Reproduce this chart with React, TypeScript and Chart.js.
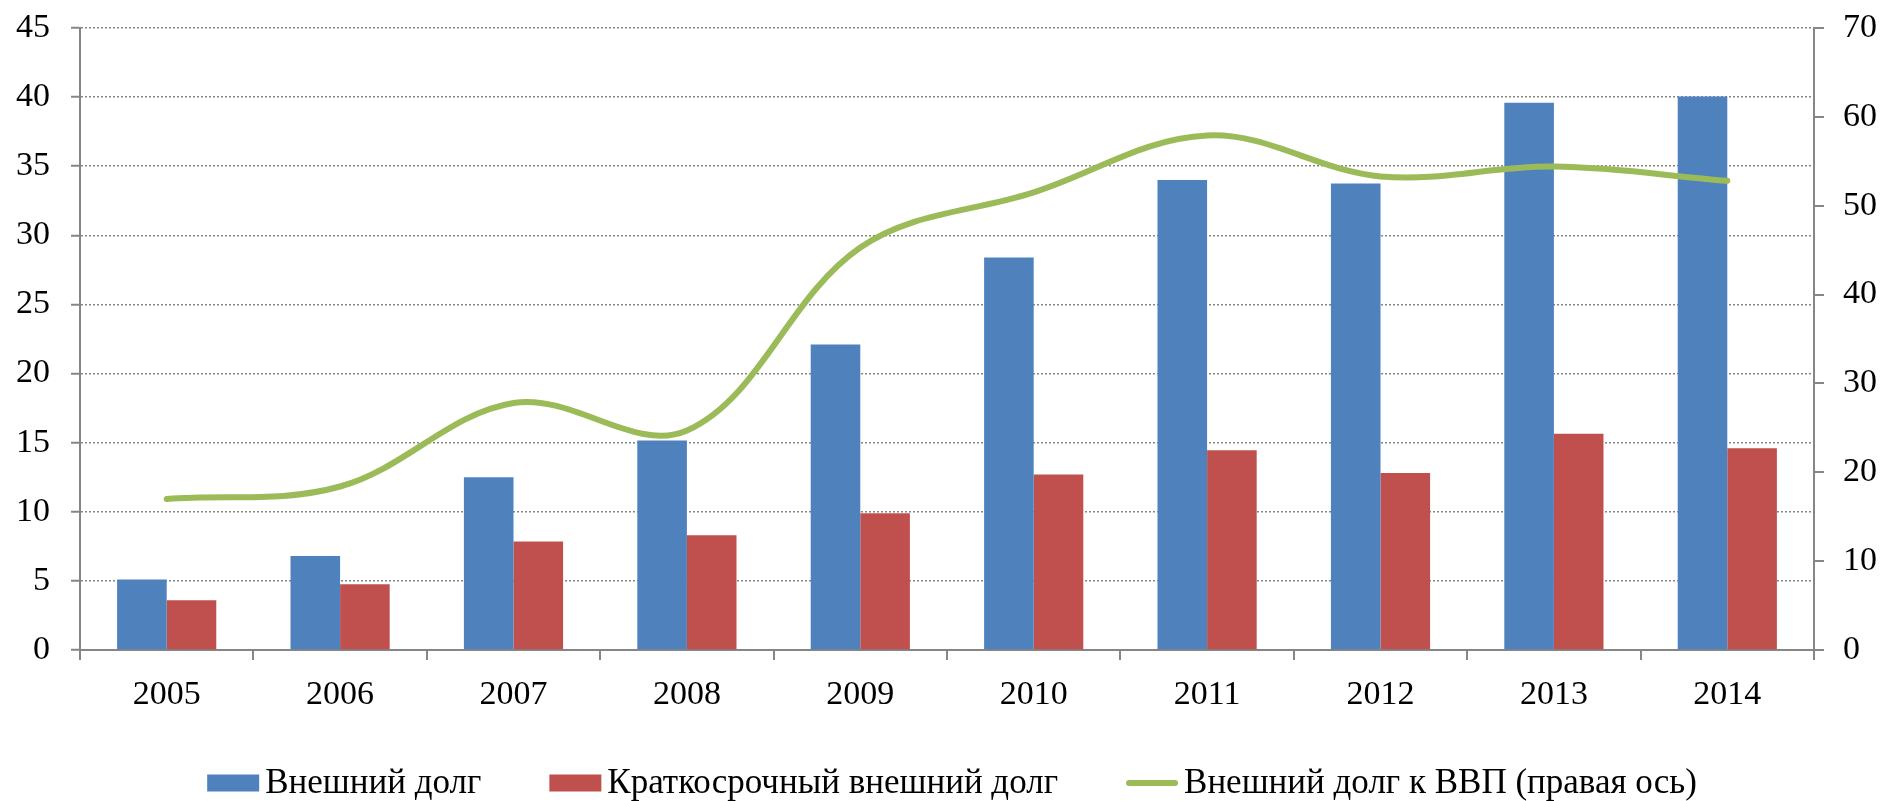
import React, { useEffect, useRef } from "react";
import { Chart, registerables } from "chart.js";

Chart.register(...registerables);

const years = ["2005", "2006", "2007", "2008", "2009", "2010", "2011", "2012", "2013", "2014"];
const externalDebt = [5.1, 6.8, 12.5, 15.15, 22.1, 28.4, 34.0, 33.75, 39.6, 40.05];
const shortTermDebt = [3.6, 4.75, 7.85, 8.3, 9.9, 12.7, 14.45, 12.8, 15.65, 14.6];
const debtToGdp = [17.0, 18.4, 27.8, 24.7, 45.3, 51.5, 57.9, 53.3, 54.4, 52.8];

const leftMax = 45;
const leftStep = 5;
const rightMax = 70;
const rightStep = 10;

const seriesLabels = ["Внешний долг", "Краткосрочный внешний долг", "Внешний долг к ВВП (правая ось)"];

const FONT = "'Liberation Serif', 'Times New Roman', serif";
const AXIS_GRAY = "#868686";

const legendPlugin = {
  id: "bottomLegend",
  afterDraw(chart: any) {
    const ctx = chart.ctx;
    const area = chart.chartArea;
    ctx.save();
    ctx.font = `35px ${FONT}`;
    ctx.textBaseline = "middle";
    ctx.textAlign = "left";
    const boxW = 52;
    const boxH = 17;
    const gapText = 6;
    const itemGap = 68;
    const y = 783;
    const items = chart.data.datasets.map((ds: any) => ({
      text: ds.label,
      color: ds.type === "line" ? ds.borderColor : ds.backgroundColor,
      isLine: ds.type === "line",
    }));
    const widths = items.map((it: any) => boxW + gapText + ctx.measureText(it.text).width);
    const total = widths.reduce((a: number, b: number) => a + b, 0) + itemGap * (items.length - 1);
    let x = (area.left + area.right) / 2 - total / 2 + 5;
    items.forEach((it: any, i: number) => {
      if (it.isLine) {
        ctx.strokeStyle = it.color;
        ctx.lineWidth = 6;
        ctx.lineCap = "round";
        ctx.beginPath();
        ctx.moveTo(x + 3, y);
        ctx.lineTo(x + boxW - 3, y);
        ctx.stroke();
      } else {
        ctx.fillStyle = it.color;
        ctx.fillRect(x, y - boxH / 2, boxW, boxH);
      }
      ctx.fillStyle = "#000";
      ctx.fillText(it.text, x + boxW + gapText, y + 1);
      x += widths[i] + itemGap;
    });
    ctx.restore();
  },
};

export default function App() {
  const canvasRef = useRef<HTMLCanvasElement | null>(null);

  useEffect(() => {
    document.body.style.margin = "0";
    const canvas = canvasRef.current;
    if (!canvas) return;
    const chart = new Chart(canvas, {
      type: "bar",
      data: {
        labels: years,
        datasets: [
          {
            type: "bar",
            label: seriesLabels[0],
            data: externalDebt,
            backgroundColor: "#4F81BD",
            borderWidth: 0,
            yAxisID: "y",
            order: 1,
            categoryPercentage: 0.572,
            barPercentage: 1,
          },
          {
            type: "bar",
            label: seriesLabels[1],
            data: shortTermDebt,
            backgroundColor: "#C0504D",
            borderWidth: 0,
            yAxisID: "y",
            order: 1,
            categoryPercentage: 0.572,
            barPercentage: 1,
          },
          {
            type: "line",
            label: seriesLabels[2],
            data: debtToGdp,
            borderColor: "#9BBB59",
            backgroundColor: "#9BBB59",
            borderWidth: 6,
            borderCapStyle: "round",
            pointRadius: 0,
            tension: 0.36,
            yAxisID: "y1",
            order: 0,
          },
        ],
      } as any,
      options: {
        responsive: false,
        animation: false,
        layout: { padding: { top: 28, left: 0, right: 0, bottom: 0 } },
        plugins: {
          legend: { display: false },
          tooltip: { enabled: false },
        },
        scales: {
          x: {
            offset: true,
            grid: {
              offset: true,
              drawOnChartArea: false,
              drawTicks: true,
              tickLength: 10,
              color: AXIS_GRAY,
              lineWidth: 2,
            },
            border: { color: AXIS_GRAY, width: 2 },
            ticks: {
              color: "#000",
              font: { family: FONT, size: 34 },
              padding: 15,
              maxRotation: 0,
            },
            afterFit: (scale: any) => {
              scale.height = 151;
            },
          },
          y: {
            position: "left",
            min: 0,
            max: leftMax,
            ticks: {
              stepSize: leftStep,
              color: "#000",
              font: { family: FONT, size: 34 },
              padding: 21,
            },
            grid: {
              color: AXIS_GRAY,
              lineWidth: 1.5,
              tickLength: 9,
              tickColor: AXIS_GRAY,
              tickWidth: 2,
            },
            border: { color: AXIS_GRAY, width: 2, dash: [2, 2] },
            afterFit: (scale: any) => {
              scale.width = 80;
              scale.paddingTop = 0;
              scale.paddingBottom = 0;
            },
          },
          y1: {
            position: "right",
            min: 0,
            max: rightMax,
            ticks: {
              stepSize: rightStep,
              color: "#000",
              font: { family: FONT, size: 34 },
              padding: 19,
            },
            grid: {
              drawOnChartArea: false,
              tickLength: 10,
              color: AXIS_GRAY,
              lineWidth: 2,
            },
            border: { color: AXIS_GRAY, width: 2 },
            afterFit: (scale: any) => {
              scale.width = 71;
              scale.paddingTop = 0;
              scale.paddingBottom = 0;
            },
          },
        },
      } as any,
      plugins: [legendPlugin],
    });
    return () => chart.destroy();
  }, []);

  return (
    <div style={{ width: 1885, height: 801 }}>
      <canvas ref={canvasRef} width={1885} height={801} style={{ display: "block" }} />
    </div>
  );
}
